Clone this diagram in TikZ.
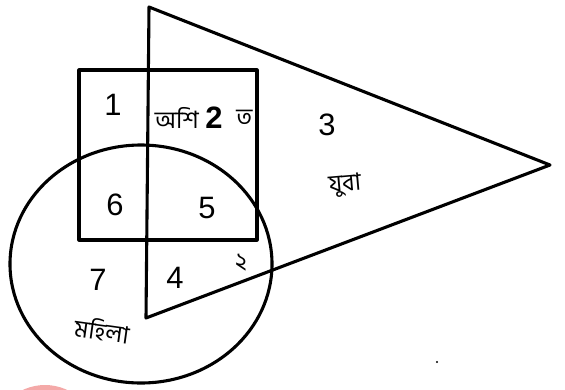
\documentclass[tikz,border=0pt]{standalone}
\usepackage{fontspec}
\setmainfont{Liberation Sans}
\newfontfamily\bnfont[Script=Bengali]{Hind Siliguri}
\usepackage{xcolor}
\usepackage{tikz}
\definecolor{stampPink}{HTML}{F4A9A8}

\begin{document}
\begin{tikzpicture}[
  x=0.025cm, y=-0.025cm,
  outline/.style={draw=black, line width=2.2pt, line join=round},
  regionNum/.style={font=\fontsize{22}{24}\selectfont},
  handText/.style={font=\bnfont\fontsize{17}{18}\selectfont, inner sep=0pt}
]
\useasboundingbox (0,0) rectangle (565,389);
\begin{scope}
  \clip (0,0) rectangle (565,389);
  \fill[stampPink] (45,437) circle (52);
\end{scope}

% sets
\draw[outline] (79,70) rectangle (257,240);
\draw[outline] (141,264) ellipse (131 and 119);
\draw[outline] (149,7) -- (550,165) -- (146,318) -- cycle;

% region numbers
\node[regionNum] (r1) at (113,105) {1};
\node[regionNum, font=\bfseries\fontsize{22}{24}\selectfont] (r2) at (214,118) {2};
\node[regionNum] (r3) at (327,125) {3};
\node[regionNum] (r5) at (207,208) {5};
\node[regionNum] (r6) at (115,205) {6};
\node[regionNum] (r7) at (98,280) {7};
\node[regionNum] (r4) at (175,278) {4};

% handwritten labels
\node[handText, anchor=east, xshift=-1pt] (litA) at (r2.west) {অশি};
\node[handText, anchor=west, xshift=6pt] (litB) at (r2.east) {ত};
\node[handText, rotate=5] (young) at (345,185) {যুবা};
\node[handText, rotate=-8] (women) at (102,330) {মহিলা};
\node[handText] (two) at (241,263) {২};
\fill (437,362) circle (1.2);
\end{tikzpicture}
\end{document}
